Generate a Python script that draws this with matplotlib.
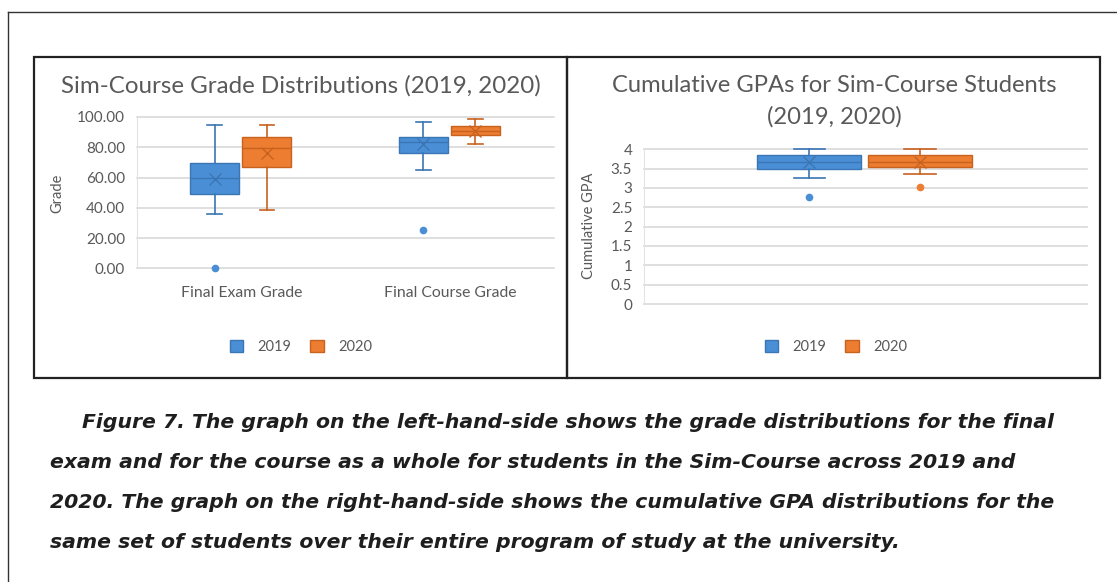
import matplotlib.pyplot as plt
from matplotlib.patches import Rectangle, Patch
from matplotlib.lines import Line2D

W, H = 1117, 582

# left chart: grade distributions (box stats)
grade_cats = ['Final Exam Grade', 'Final Course Grade']
g19_low = [35.9, 64.7]
g19_q1 = [49.1, 76.4]
g19_med = [59.5, 83.3]
g19_q3 = [69.4, 87.0]
g19_high = [94.7, 96.5]
g19_mean = [59.0, 82.0]
g19_out = [[0.4], [25.3]]

g20_low = [38.5, 82.4]
g20_q1 = [67.2, 88.0]
g20_med = [79.7, 91.0]
g20_q3 = [87.0, 94.3]
g20_high = [94.7, 98.5]
g20_mean = [76.0, 91.0]
g20_out = [[], []]

# right chart: cumulative GPA, index 0 = 2019, 1 = 2020
gpa_low = [3.25, 3.36]
gpa_q1 = [3.50, 3.54]
gpa_med = [3.67, 3.68]
gpa_q3 = [3.85, 3.84]
gpa_high = [4.00, 4.00]
gpa_mean = [3.66, 3.68]
gpa_out = [[2.77], [3.02]]

years = ['2019', '2020']
grade_ticks = [0, 20, 40, 60, 80, 100]
gpa_ticks = [0, 0.5, 1, 1.5, 2, 2.5, 3, 3.5, 4]

blue, blue_dk = '#4A8FD6', '#3A75B4'
orange, orange_dk = '#ED7D31', '#C8621F'
grey = '#595959'
grid = '#D9D9D9'
font = 'Lato'


def stats(low, q1, med, q3, high, mean, out, i):
    return dict(whislo=low[i], q1=q1[i], med=med[i], q3=q3[i],
                whishi=high[i], mean=mean[i], fliers=out[i])


def draw_boxes(ax, st, pos, fc, ec):
    w = 0.235
    ax.bxp(st, positions=pos, widths=w, capwidths=w * 0.3,
           patch_artist=True, showmeans=True, manage_ticks=False,
           boxprops=dict(facecolor=fc, edgecolor=ec, linewidth=1),
           medianprops=dict(color=ec, linewidth=1),
           whiskerprops=dict(color=ec, linewidth=1.2),
           capprops=dict(color=ec, linewidth=1.2),
           meanprops=dict(marker='x', markersize=8, markeredgecolor=ec,
                          markeredgewidth=1),
           flierprops=dict(marker='o', markersize=4.5, markerfacecolor=fc,
                           markeredgecolor=fc),
           zorder=3)


def style_axis(ax, ticks, labels):
    ax.set_yticks(ticks)
    ax.set_yticklabels(labels, fontsize=11, color=grey, family=font)
    ax.yaxis.grid(True, color=grid, linewidth=1.2)
    ax.set_axisbelow(True)
    for s in ['top', 'right', 'bottom']:
        ax.spines[s].set_visible(False)
    ax.spines['left'].set_color('#E3E3E3')
    ax.tick_params(axis='y', length=0, pad=8.5)
    ax.tick_params(axis='x', length=0, pad=13)
    for ln in ax.get_ygridlines():
        ln.set_clip_on(False)


fig = plt.figure(figsize=(W / 100, H / 100), dpi=100)

# outer frame of the page
fig.add_artist(Line2D([8 / W, 8 / W], [0, 1 - 12 / H], color='#333333', lw=1))
fig.add_artist(Line2D([8 / W, 1], [1 - 12 / H, 1 - 12 / H], color='#333333', lw=1))

# panel borders
for x0, x1 in [(34, 567), (567, 1100)]:
    fig.add_artist(Rectangle((x0 / W, 1 - 378 / H), (x1 - x0) / W, (378 - 57) / H,
                             transform=fig.transFigure, fill=False,
                             edgecolor='#222222', linewidth=1.6))

# left chart
axL = fig.add_axes([137 / W, 1 - 268.3 / H, 417 / W, 151.3 / H])
n = len(grade_cats)
draw_boxes(axL, [stats(g19_low, g19_q1, g19_med, g19_q3, g19_high, g19_mean, g19_out, i) for i in range(n)],
           [i - 0.127 for i in range(n)], blue, blue_dk)
draw_boxes(axL, [stats(g20_low, g20_q1, g20_med, g20_q3, g20_high, g20_mean, g20_out, i) for i in range(n)],
           [i + 0.123 for i in range(n)], orange, orange_dk)
axL.set_xlim(-0.5, n - 0.5)
axL.set_ylim(0, 100)
axL.set_xticks(range(n))
axL.set_xticklabels(grade_cats, fontsize=11.3, color=grey, family=font)
style_axis(axL, grade_ticks, ['%.2f' % t for t in grade_ticks])
for fl in axL.lines:
    fl.set_clip_on(False)

# right chart
axR = fig.add_axes([644 / W, 1 - 304 / H, 443 / W, 154.7 / H])
draw_boxes(axR, [stats(gpa_low, gpa_q1, gpa_med, gpa_q3, gpa_high, gpa_mean, gpa_out, 0)],
           [-0.127], blue, blue_dk)
draw_boxes(axR, [stats(gpa_low, gpa_q1, gpa_med, gpa_q3, gpa_high, gpa_mean, gpa_out, 1)],
           [0.123], orange, orange_dk)
axR.set_xlim(-0.5, 0.5)
axR.set_ylim(0, 4)
axR.set_xticks([])
style_axis(axR, gpa_ticks, ['%g' % t for t in gpa_ticks])
for fl in axR.lines:
    fl.set_clip_on(False)

# titles and axis labels
fig.text(300.5 / W, 1 - 86 / H, 'Sim-Course Grade Distributions (2019, 2020)',
         ha='center', va='center', fontsize=17.4, color=grey, family=font)
fig.text(834 / W, 1 - 86 / H, 'Cumulative GPAs for Sim-Course Students',
         ha='center', va='center', fontsize=17.1, color=grey, family=font)
fig.text(834 / W, 1 - 117 / H, '(2019, 2020)',
         ha='center', va='center', fontsize=17.1, color=grey, family=font)
fig.text(57 / W, 1 - 193 / H, 'Grade', rotation=90, ha='center', va='center',
         fontsize=10.5, color=grey, family=font)
fig.text(589 / W, 1 - 226 / H, 'Cumulative GPA', rotation=90, ha='center', va='center',
         fontsize=10.5, color=grey, family=font)

# legends
handles = [Patch(facecolor=blue, edgecolor=blue_dk), Patch(facecolor=orange, edgecolor=orange_dk)]
for cx in [301, 836]:
    fig.legend(handles, years, loc='center', bbox_to_anchor=(cx / W, 1 - 347 / H),
               ncol=2, frameon=False, handlelength=0.9, handleheight=0.9,
               handletextpad=1.0, columnspacing=1.3,
               prop=dict(family=font, size=10.5), labelcolor=grey)

# caption
caption = [
    (82, 422, 'Figure 7. The graph on the left-hand-side shows the grade distributions for the final'),
    (50, 463, 'exam and for the course as a whole for students in the Sim-Course across 2019 and'),
    (50, 503, '2020. The graph on the right-hand-side shows the cumulative GPA distributions for the'),
    (50, 543, 'same set of students over their entire program of study at the university.'),
]
for x, y, t in caption:
    fig.text(x / W, 1 - y / H, t, ha='left', va='center', fontsize=14.7,
             fontweight='bold', style='italic', color='#1E1E1E', family='DejaVu Sans')

fig.savefig('out.png', dpi=100)
